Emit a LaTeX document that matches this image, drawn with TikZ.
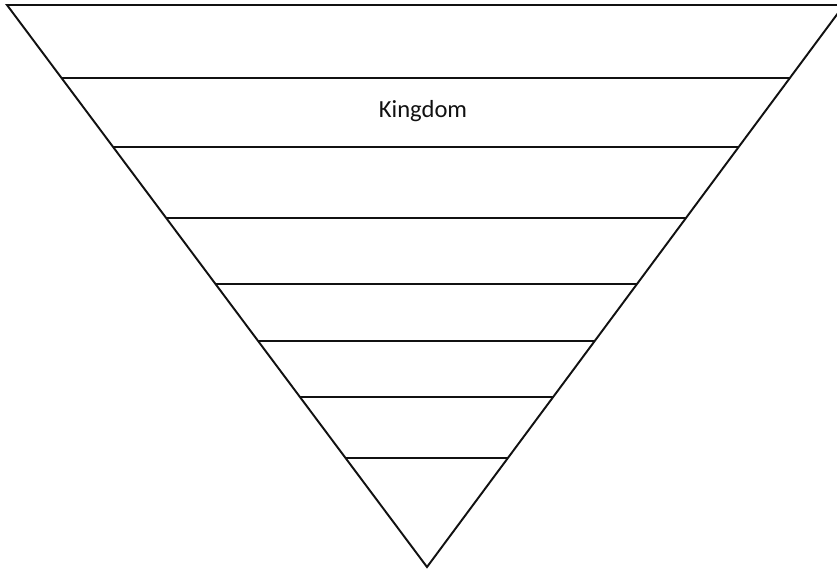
\documentclass[tikz,border=0pt]{standalone}
\usepackage{fontspec}
\setsansfont{Carlito}
\usetikzlibrary{calc}
\definecolor{cink}{HTML}{111111}
\tikzset{
  every picture/.style={font=\sffamily, line width=1.1pt},
  edge/.style={draw=cink, line join=miter},
  rung/.style={draw=cink},
  label/.style={font=\sffamily\fontsize{14}{16}\selectfont, text=cink},
}

\begin{document}
\begin{tikzpicture}[x=0.02cm, y=-0.02cm]
  \useasboundingbox (0,0) rectangle (837,572);
  \clip (0,0) rectangle (837,572);
  \coordinate (apex) at (427,567);
  \coordinate (tl) at (7,5);
  \coordinate (tr) at (844,5);
  \draw[edge] (tl) -- (tr) -- (apex) -- cycle;
  \foreach \t in {0.870, 0.747, 0.621, 0.504, 0.402, 0.302, 0.194}
    \draw[rung] ($(apex)!\t!(tl)$) -- ($(apex)!\t!(tr)$);
  \node[label] (kingdom) at (423,111) {Kingdom};
\end{tikzpicture}
\end{document}
